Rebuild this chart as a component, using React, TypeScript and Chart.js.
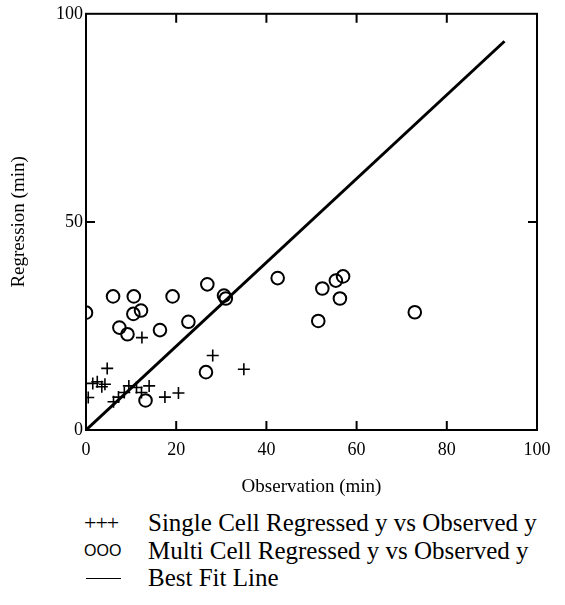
import React, { useEffect, useRef } from "react";
import { Chart, registerables } from "chart.js";

Chart.register(...registerables);

const singleCellX = [0.5, 1.5, 2.5, 3.5, 4.2, 4.7, 6.1, 7.2, 8.5, 9.5, 11.2, 12.3, 12.4, 14.0, 17.5, 20.5, 28.1, 35.0];
const singleCellY = [7.8, 11.2, 11.6, 10.4, 11.0, 14.8, 6.8, 7.9, 9.0, 10.6, 10.2, 9.0, 22.2, 10.6, 7.9, 8.9, 17.9, 14.6];

const multiCellX = [0.0, 6.0, 10.6, 19.2, 26.9, 30.6, 31.0, 12.2, 10.5, 7.4, 9.2, 16.4, 22.7, 26.6, 13.2, 42.5, 52.4, 55.4, 57.0, 56.3, 51.5, 72.9];
const multiCellY = [28.2, 32.1, 32.1, 32.1, 35.0, 32.3, 31.6, 28.7, 27.9, 24.6, 23.0, 24.0, 26.0, 13.9, 7.1, 36.5, 34.0, 35.9, 36.9, 31.6, 26.2, 28.3];

const fitX = [0, 92.8];
const fitY = [0, 93.4];

const xTicks = [0, 20, 40, 60, 80, 100];
const yTicks = [0, 50, 100];

const legendLabels = [
  "Single Cell Regressed y vs Observed y",
  "Multi Cell Regressed y vs Observed y",
  "Best Fit Line",
];

const SERIF = "'Liberation Serif', 'Times New Roman', serif";

export default function App() {
  const ref = useRef<HTMLCanvasElement | null>(null);

  useEffect(() => {
    document.body.style.margin = "0";
    const canvas = ref.current;
    if (!canvas) return;

    const frame = {
      id: "frameTicks",
      afterDatasetsDraw(chart: any) {
        const { ctx, chartArea } = chart;
        const { left, right, top, bottom } = chartArea;
        const xs = chart.scales.x;
        const ys = chart.scales.y;
        ctx.save();
        ctx.strokeStyle = "#000";
        ctx.lineWidth = 2;
        ctx.strokeRect(left, top, right - left, bottom - top);
        const len = 9;
        ctx.beginPath();
        xTicks.slice(1, -1).forEach((v) => {
          const px = xs.getPixelForValue(v);
          ctx.moveTo(px, bottom);
          ctx.lineTo(px, bottom - len);
          ctx.moveTo(px, top);
          ctx.lineTo(px, top + len);
        });
        yTicks.slice(1, -1).forEach((v) => {
          const py = ys.getPixelForValue(v);
          ctx.moveTo(left, py);
          ctx.lineTo(left + len, py);
          ctx.moveTo(right, py);
          ctx.lineTo(right - len, py);
        });
        ctx.stroke();
        ctx.restore();
      },
    };

    const chart = new Chart(canvas, {
      type: "scatter",
      data: {
        datasets: [
          {
            label: legendLabels[0],
            data: singleCellX.map((x, i) => ({ x, y: singleCellY[i] })),
            pointStyle: "cross",
            pointRadius: 6,
            borderColor: "#000",
            backgroundColor: "#000",
            borderWidth: 1.6,
          },
          {
            label: legendLabels[1],
            data: multiCellX.map((x, i) => ({ x, y: multiCellY[i] })),
            pointStyle: "circle",
            pointRadius: 6.3,
            borderColor: "#000",
            backgroundColor: "rgba(0,0,0,0)",
            borderWidth: 2,
          },
          {
            type: "line",
            label: legendLabels[2],
            data: fitX.map((x, i) => ({ x, y: fitY[i] })),
            borderColor: "#000",
            borderWidth: 3,
            pointRadius: 0,
            fill: false,
          } as any,
        ],
      },
      options: {
        animation: false,
        responsive: false,
        maintainAspectRatio: false,
        layout: { padding: { top: 9, right: 28, left: 0, bottom: 0 } },
        plugins: {
          legend: { display: false },
          tooltip: { enabled: false },
        },
        scales: {
          x: {
            type: "linear",
            min: 0,
            max: 100,
            grid: { display: false, drawTicks: false },
            border: { display: false },
            ticks: {
              stepSize: 20,
              color: "#000",
              padding: 9,
              font: { family: SERIF, size: 18 },
            },
            title: {
              display: true,
              text: "Observation (min)",
              color: "#000",
              font: { family: SERIF, size: 19 },
              padding: { top: 0, bottom: 7 },
            },
            afterFit: (s: any) => {
              s.height = 75;
            },
          },
          y: {
            type: "linear",
            min: 0,
            max: 100,
            grid: { display: false, drawTicks: false },
            border: { display: false },
            ticks: {
              stepSize: 50,
              color: "#000",
              padding: 3,
              font: { family: SERIF, size: 18 },
            },
            title: {
              display: true,
              text: "Regression (min)",
              color: "#000",
              font: { family: SERIF, size: 19 },
              padding: { top: 8, bottom: 0 },
            },
            afterFit: (s: any) => {
              s.width = 86;
            },
          },
        },
      },
      plugins: [frame],
    });

    return () => chart.destroy();
  }, []);

  const rowTops = [508, 536, 563];
  const symbols = ["+++", "OOO", ""];

  return (
    <div style={{ position: "relative", width: 565, height: 605, background: "#fff" }}>
      <canvas ref={ref} width={565} height={505} style={{ position: "absolute", left: 0, top: 0 }} />
      {legendLabels.map((label, i) => (
        <div key={label} style={{ position: "absolute", left: 0, top: rowTops[i], height: 30, width: 565 }}>
          {i === 2 ? (
            <div style={{ position: "absolute", left: 86, top: 15, width: 35, height: 0, borderTop: "1.5px solid #000" }} />
          ) : (
            <div
              style={{
                position: "absolute",
                left: 84,
                top: 3,
                fontFamily: i === 0 ? SERIF : "'Liberation Sans', Arial, sans-serif",
                fontSize: i === 0 ? 22 : 16,
                lineHeight: "24px",
                letterSpacing: i === 0 ? -1 : 0,
              }}
            >
              {symbols[i]}
            </div>
          )}
          <div
            style={{
              position: "absolute",
              left: 148,
              top: 0,
              fontFamily: SERIF,
              fontSize: 25,
              lineHeight: "30px",
              whiteSpace: "nowrap",
              color: "#000",
            }}
          >
            {label}
          </div>
        </div>
      ))}
    </div>
  );
}
